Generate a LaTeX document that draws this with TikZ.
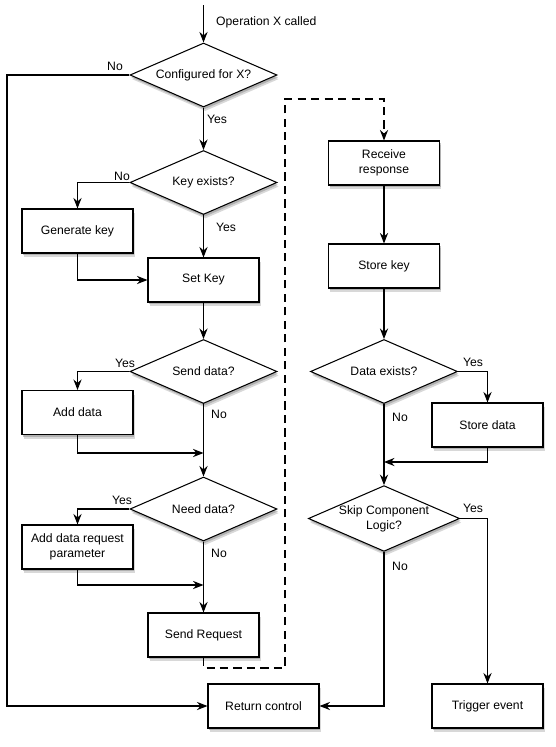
\documentclass[tikz,border=0pt]{standalone}
\usepackage{fontspec}
\setmainfont{Liberation Sans}
\usetikzlibrary{shapes.geometric,arrows.meta,shadows,positioning}

\tikzset{
  softshadow/.style={drop shadow={shadow xshift=1.5pt, shadow yshift=-3.5pt, fill=black!30, opacity=0.5}, drop shadow={shadow xshift=1pt, shadow yshift=-2pt, fill=black!45, opacity=0.5}},
  flowbox/.style={draw, line width=0.9pt, fill=white, minimum width=3.33cm, minimum height=1.32cm, align=center, inner sep=1pt, softshadow},
  decision/.style={diamond, draw, line width=0.9pt, fill=white, aspect=2.3, minimum width=4.41cm, minimum height=1.92cm, inner sep=0pt, align=center, softshadow},
  flow/.style={line width=0.9pt, -{Stealth[length=9pt,width=7pt,inset=3pt]}},
  answer/.style={inner sep=0pt},
}

\begin{document}
\begin{tikzpicture}[x=0.03cm, y=-0.03cm, font=\fontsize{10.4}{13}\selectfont]
        % Fix the page to the size of the drawing
        \useasboundingbox (0,0) rectangle (556,747);
        % Draw the decision diamonds
        \foreach \nm/\x/\y/\txt in {conf/203.5/75/Configured for X?, keyq/203.5/182.5/Key exists?, sendq/203.5/371.5/Send data?, needq/203.5/509/Need data?, dataq/384/371.5/Data exists?, skipq/384/518.5/{Skip Component\\Logic?}} {
            \node[decision] (\nm) at (\x,\y) {\txt};
          }
        % Draw the process boxes
        \foreach \nm/\x/\y/\txt in {genkey/77.5/231/Generate key, setkey/203.5/280/Set Key, adddata/77.5/412.5/Add data, addparam/77.5/547/{Add data request\\parameter}, sendreq/203.5/635/Send Request, recv/384/163/{Receive\\response}, storekey/384/266/Store key, storedata/487.5/425/Store data, retctl/263.5/706/Return control, trigger/487.5/706/Trigger event} {
            \node[flowbox] (\nm) at (\x,\y) {\txt};
          }
        % Yes / No answers
        \foreach \txt/\x/\y [count=\i] in {No/115/66, Yes/217/119, No/122/176, Yes/226/227, Yes/125/363, No/219/414, Yes/122/500, No/219/553, Yes/473/362, No/400/417, Yes/473/508, No/400/566} {
            \node[answer] (ans\i) at (\x,\y) {\txt};
          }
        \node[answer, anchor=west] (opx) at (216,22) {Operation X called};
        % Helper points for the joins
        \coordinate (start) at (203.5,5);
        \coordinate (leftrail) at (7,400);
        \coordinate (joinadd) at (203.5,453);
        \coordinate (joinparam) at (203.5,585);
        \coordinate (joinstore) at (384,462);
        \coordinate (dashlow) at (285,668);
        \coordinate (dashtop) at (285,99);
        % Left column
        \draw[flow] (start) -- (conf.north);
        \draw[flow] (conf.south) -- (keyq.north);
        \draw[flow] (keyq.south) -- (setkey.north);
        \draw[flow] (keyq.west) -| (genkey.north);
        \draw[flow] (genkey.south) |- (setkey.west);
        \draw[flow] (setkey.south) -- (sendq.north);
        \draw[flow] (sendq.west) -| (adddata.north);
        \draw[flow] (adddata.south) |- (joinadd);
        \draw[flow] (sendq.south) -- (needq.north);
        \draw[flow] (needq.west) -| (addparam.north);
        \draw[flow] (addparam.south) |- (joinparam);
        \draw[flow] (needq.south) -- (sendreq.north);
        \draw[flow] (conf.west) -| (leftrail) |- (retctl.west);
        % Request goes out, response comes back
        \draw[flow, dash pattern=on 7pt off 4.5pt] (sendreq.south) |- (dashlow) -- (dashtop) -| (recv.north);
        % Right column
        \draw[flow] (recv.south) -- (storekey.north);
        \draw[flow] (storekey.south) -- (dataq.north);
        \draw[flow] (dataq.east) -| (storedata.north);
        \draw[flow] (storedata.south) |- (joinstore);
        \draw[flow] (dataq.south) -- (skipq.north);
        \draw[flow] (skipq.east) -| (trigger.north);
        \draw[flow] (skipq.south) |- (retctl.east);
      \end{tikzpicture}
\end{document}
